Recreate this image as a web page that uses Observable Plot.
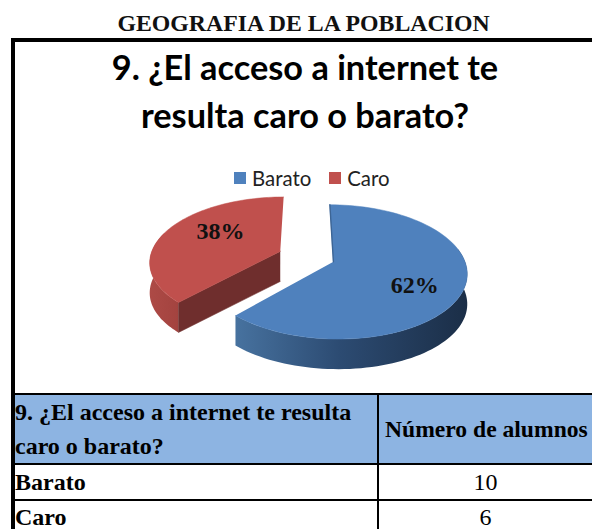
<!DOCTYPE html>
<html>
<head>
<meta charset="utf-8">
<script src="https://cdn.jsdelivr.net/npm/d3@7"></script>
<script src="https://cdn.jsdelivr.net/npm/@observablehq/plot@0.6"></script>
<style>
html,body{margin:0;padding:0;background:#fff;overflow:hidden}
#page{position:relative;width:592px;height:529px;overflow:hidden}
#page>*{position:absolute}
#sup{left:0;width:607px;top:10px;text-align:center;font:bold 23.8px/26px "Liberation Serif",serif;color:#111;white-space:nowrap}
#frameT{left:11px;top:38px;width:581px;height:4px;background:#000}
#frameL{left:11px;top:38px;width:4px;height:491px;background:#000}
#title{left:15px;width:580px;top:43px;text-align:center;font:bold 34.3px/48px Lato,sans-serif;color:#000;white-space:nowrap}
#legend{left:234px;top:166px;display:flex;align-items:center;font:20.4px/24px Lato,sans-serif;color:#222}
#legend i{display:inline-block;width:12px;height:12px;margin-right:6px}
#legend span{margin-right:18px}
#chart{left:15px;top:188px}
#tbl{left:15px;top:393px;border-collapse:collapse;table-layout:fixed;width:577px;font:24px/34px "Liberation Serif",serif;color:#000}
#tbl td{border:2px solid #000;padding:0;height:33px;border-left:0;border-right:0;white-space:nowrap}
#tbl td:first-child{border-right:2px solid #000}
#tbl tr.h td{background:#8db4e2;font-weight:bold}
#tbl td.n{text-align:center;padding:0 0 0 0}
#tbl td.c{font-weight:bold}
#tbl tr.last td{height:29px;line-height:29px;padding-top:2px;border-bottom:0}
#tbl tr.h td{font-size:24px}
#tbl td.hn{padding-left:6px;font-size:23.6px !important}
</style>
</head>
<body>
<div id="page">
  <div id="sup"></div><div id="frameT"></div><div id="frameL"></div>
  <div id="title"></div><div id="legend"></div><div id="chart"></div>
  <table id="tbl"></table>
</div>
<script>
const superTitle = "GEOGRAFIA DE LA POBLACION";
const titleLines = ["9. ¿El acceso a internet te", "resulta caro o barato?"];
const categories = ["Barato", "Caro"];
const shares = [62, 38];
const counts = [10, 6];
const topColors = ["#4f81bd", "#c0504d"];
const tableHeader = ["9. ¿El acceso a internet te resulta<br>caro o barato?", "Número de alumnos"];

document.getElementById("sup").textContent = superTitle;
document.getElementById("title").innerHTML = titleLines.join("<br>");
document.getElementById("legend").innerHTML = categories.map((c, i) =>
  `<i style="background:${topColors[i]}"></i><span>${c}</span>`).join("");
document.getElementById("tbl").innerHTML =
  `<colgroup><col style="width:363px"><col></colgroup>` +
  `<tr class="h"><td style="height:68px">${tableHeader[0]}</td><td class="hn">${tableHeader[1]}</td></tr>` +
  categories.map((c, i) => `<tr class="${i === categories.length - 1 ? "last" : ""}"><td class="c">${c}</td><td class="n">${counts[i]}</td></tr>`).join("");

// Perspective view of the pie: unit circle on a tilted ground plane.
const persp = 0.15, explode = 0.22, drop = 0.47;
const proj = (u, v, z = 0) => ({x: u / (1 - persp * v), y: v / (1 - persp * v) + z});
const arcs = d3.pie().sort(null)(shares);
const slices = arcs.map((a, i) => {
  const mid = (a.startAngle + a.endAngle) / 2;
  const ox = explode * Math.sin(mid), oy = -explode * Math.cos(mid);
  const at = (t, r = 1, z = 0) => proj(ox + r * Math.sin(t), oy - r * Math.cos(t), z);
  return {...a, i, mid, at, name: categories[i], color: topColors[i]};
});
const sweep = (a, b, n, f) => d3.range(n + 1).map(k => f(a + (b - a) * k / n));
const topFace = s => [s.at(0, 0), ...sweep(s.startAngle, s.endAngle, 90, t => s.at(t))];
const wall = (s, a, b) => [
  ...sweep(a, b, 70, t => s.at(t)),
  ...sweep(b, a, 70, t => s.at(t, 1, drop))
];
const [blue, red] = slices;
const redWall = wall(red, red.startAngle, 1.6 * Math.PI);
const blueWall = wall(blue, Math.PI / 2 - .2, blue.endAngle);
const cutFace = [red.at(0, 0), red.at(red.startAngle), red.at(red.startAngle, 1, drop), red.at(0, 0, drop)];
const blueEdge = [blue.at(0, 0), blue.at(0)];
const labels = slices.map(s => ({...s.at(s.mid + 0.19, .64), text: shares[s.i] + "%"}));

// Horizontal shading of the outer walls
const gradients = () => {
  const ns = "http://www.w3.org/2000/svg";
  const defs = document.createElementNS(ns, "defs");
  const add = (id, stops) => {
    const g = document.createElementNS(ns, "linearGradient");
    g.setAttribute("id", id);
    stops.forEach(([o, c]) => {
      const st = document.createElementNS(ns, "stop");
      st.setAttribute("offset", o);
      st.setAttribute("stop-color", c);
      g.append(st);
    });
    defs.append(g);
  };
  add("blueWallFill", [[0, "#47729f"], [.45, "#2c4b72"], [1, "#1b2e47"]]);
  add("redWallFill", [[0, "#ad4a46"], [1, "#a3433f"]]);
  return defs;
};

const W = 577, H = 205, ox = 291, oy = 68, rx = 130, ry = 64;
document.getElementById("chart").append(Plot.plot({
  width: W, height: H, margin: 0,
  x: {axis: null, domain: [-ox / rx, (W - ox) / rx], range: [0, W]},
  y: {axis: null, domain: [-oy / ry, (H - oy) / ry], range: [0, H]},
  style: {background: "transparent"},
  marks: [
    gradients,
    Plot.line(redWall, {x: "x", y: "y", fill: "url(#redWallFill)", stroke: "none"}),
    Plot.line(cutFace, {x: "x", y: "y", fill: "#6f2e2d", stroke: "#6f2e2d", strokeWidth: .5}),
    Plot.line(topFace(red), {x: "x", y: "y", fill: red.color, stroke: red.color, strokeWidth: .5}),
    Plot.line(blueWall, {x: "x", y: "y", fill: "url(#blueWallFill)", stroke: "none"}),
    Plot.line(topFace(blue), {x: "x", y: "y", fill: blue.color, stroke: blue.color, strokeWidth: .5}),
    Plot.line(blueEdge, {x: "x", y: "y", stroke: "#3d6595", strokeWidth: 1.4}),
    Plot.text(labels, {x: "x", y: "y", dx: 5, text: "text", fontFamily: "Liberation Serif", fontWeight: "bold", fontSize: 24, fill: "#111"})
  ]
}));
</script>
</body>
</html>
